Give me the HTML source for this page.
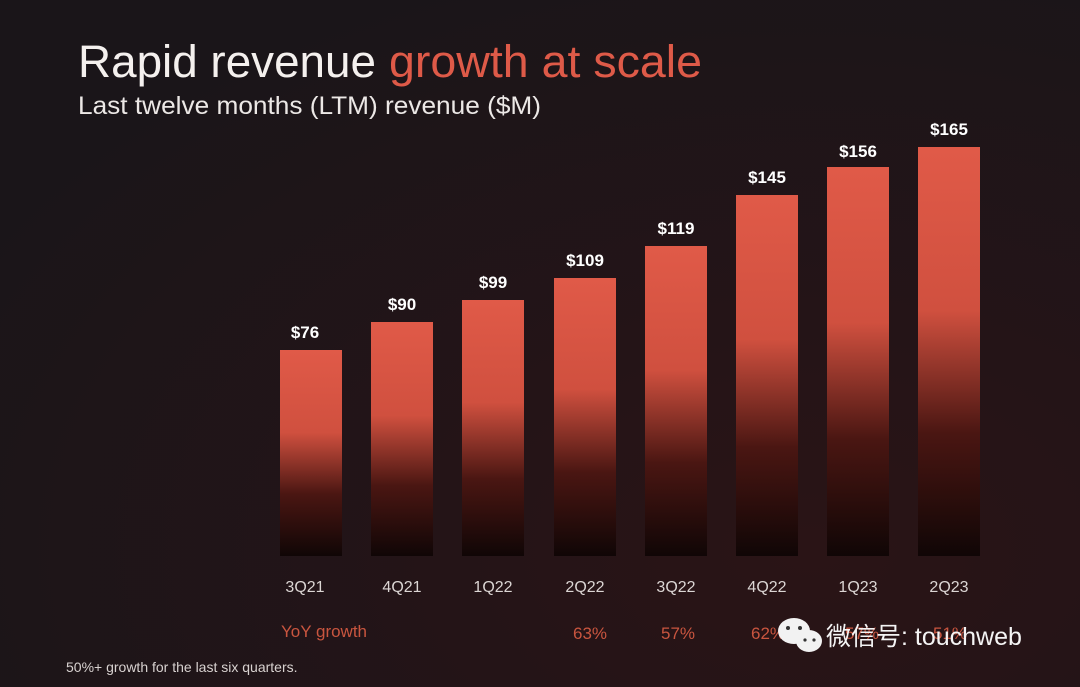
<!DOCTYPE html>
<html><head><meta charset="utf-8"><style>
html,body{margin:0;padding:0;background:#1b1417;}
svg{display:block}
text{font-family:"Liberation Sans","Noto Sans CJK SC",sans-serif}
</style></head><body>
<svg width="1080" height="687" viewBox="0 0 1080 687" xmlns="http://www.w3.org/2000/svg">
<defs>
<radialGradient id="bg" cx="0.75" cy="0.8" r="0.9">
<stop offset="0" stop-color="#2a1416"/>
<stop offset="1" stop-color="#1a1519"/>
</radialGradient>
<linearGradient id="bar" x1="0" y1="0" x2="0" y2="1">
<stop offset="0" stop-color="#e05a48"/>
<stop offset="0.4" stop-color="#d0503f"/>
<stop offset="0.7" stop-color="#4a1612"/>
<stop offset="1" stop-color="#100606"/>
</linearGradient>
</defs>
<rect width="1080" height="687" fill="url(#bg)"/>
<text x="78" y="77" font-size="45" fill="#f4f0ee" textLength="298" lengthAdjust="spacingAndGlyphs">Rapid revenue</text>
<text x="389" y="77" font-size="45" fill="#de5a48" textLength="313" lengthAdjust="spacingAndGlyphs">growth at scale</text>
<text x="78" y="114" font-size="25" fill="#ece8e6" textLength="463" lengthAdjust="spacingAndGlyphs">Last twelve months (LTM) revenue ($M)</text>
<g fill="url(#bar)">
<rect x="280" y="350" width="62" height="206"/>
<rect x="371" y="322" width="62" height="234"/>
<rect x="462" y="300" width="62" height="256"/>
<rect x="554" y="278" width="62" height="278"/>
<rect x="645" y="246" width="62" height="310"/>
<rect x="736" y="195" width="62" height="361"/>
<rect x="827" y="167" width="62" height="389"/>
<rect x="918" y="147" width="62" height="409"/>
</g>
<g font-size="17" font-weight="bold" fill="#ffffff" text-anchor="middle">
<text x="305" y="338">$76</text>
<text x="402" y="310">$90</text>
<text x="493" y="288">$99</text>
<text x="585" y="266">$109</text>
<text x="676" y="234">$119</text>
<text x="767" y="183">$145</text>
<text x="858" y="157">$156</text>
<text x="949" y="135">$165</text>
</g>
<g font-size="16" fill="#dcd6d4" text-anchor="middle">
<text x="305" y="592">3Q21</text>
<text x="402" y="592">4Q21</text>
<text x="493" y="592">1Q22</text>
<text x="585" y="592">2Q22</text>
<text x="676" y="592">3Q22</text>
<text x="767" y="592">4Q22</text>
<text x="858" y="592">1Q23</text>
<text x="949" y="592">2Q23</text>
</g>
<g font-size="17" fill="#c9553f">
<text x="281" y="637">YoY growth</text>
<text x="590" y="639" text-anchor="middle">63%</text>
<text x="678" y="639" text-anchor="middle">57%</text>
<text x="768" y="639" text-anchor="middle">62%</text>
<text x="862" y="639" text-anchor="middle">57%</text>
<text x="950" y="639" text-anchor="middle">51%</text>
</g>
<text x="66" y="672" font-size="14" fill="#d8d2d0">50%+ growth for the last six quarters.</text>
<g fill="#f2f2f2">
<ellipse cx="794" cy="631" rx="16" ry="13"/>
<ellipse cx="809" cy="641" rx="13" ry="11"/>
</g>
<g fill="#333">
<circle cx="788" cy="628" r="2"/><circle cx="800" cy="628" r="2"/>
<circle cx="805" cy="640" r="1.6"/><circle cx="814" cy="640" r="1.6"/>
</g>
<text x="826" y="645" font-size="25" fill="#f4f4f4">微信号: touchweb</text>
</svg>
</body></html>
